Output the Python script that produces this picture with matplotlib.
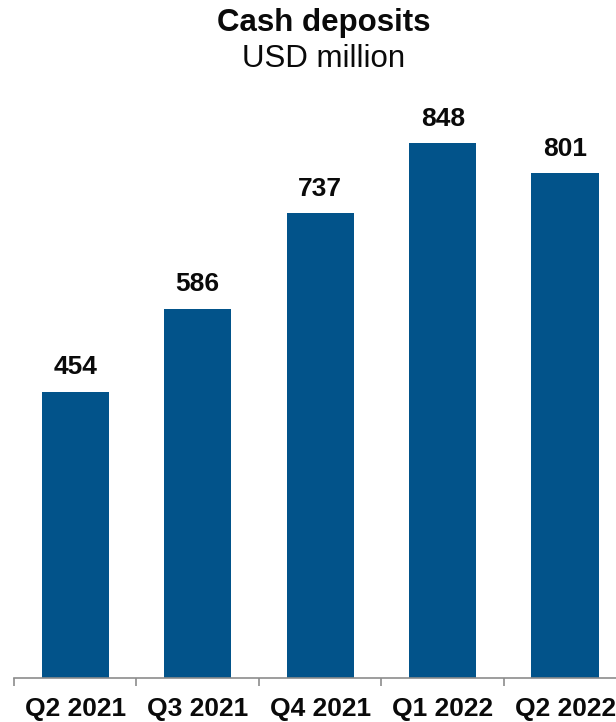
import matplotlib
matplotlib.use("Agg")
import matplotlib.pyplot as plt

quarters = ["Q2 2021", "Q3 2021", "Q4 2021", "Q1 2022", "Q2 2022"]
deposits = [454, 586, 737, 848, 801]

BAR_COLOR = "#02538A"
AXIS_COLOR = "#8C8C8C"
TEXT_COLOR = "#0A0A0A"

plt.rcParams["font.family"] = ["Liberation Sans", "DejaVu Sans"]

fig = plt.figure(figsize=(6.16, 7.22), dpi=100)
# axes placed in pixels: x from 14 to 616, y from 100 to 678
ax = fig.add_axes([14 / 616, 1 - 678 / 722, (616 - 14) / 616, (678 - 100) / 722])

x = list(range(len(quarters)))
ax.bar(x, deposits, width=0.55, color=BAR_COLOR, zorder=2)

for xi, v in zip(x, deposits):
    ax.text(xi, v + 20, str(v), ha="center", va="bottom",
            fontsize=19, fontweight="bold", color=TEXT_COLOR)

ax.set_xlim(-0.5, 4.415)
ax.set_ylim(0, 917)

for side in ["top", "right", "left"]:
    ax.spines[side].set_visible(False)
ax.spines["bottom"].set_color(AXIS_COLOR)
ax.spines["bottom"].set_linewidth(1.2)
ax.set_yticks([])

# category boundary ticks
ax.set_xticks([-0.5, 0.5, 1.5, 2.5, 3.5], minor=False)
ax.set_xticklabels([])
ax.tick_params(axis="x", which="major", length=6, width=1.2, color=AXIS_COLOR)
ax.set_xticks(x, minor=True)
ax.set_xticklabels(quarters, minor=True, fontsize=19, fontweight="bold",
                   color=TEXT_COLOR)
ax.tick_params(axis="x", which="minor", length=0, pad=14)

fig.text(0.525, 1 - 23 / 722, "Cash deposits", ha="center", va="center",
         fontsize=22.5, fontweight="bold", color=TEXT_COLOR)
fig.text(0.525, 1 - 59 / 722, "USD million", ha="center", va="center",
         fontsize=22.5, color=TEXT_COLOR)

fig.savefig("out.png", dpi=100)
